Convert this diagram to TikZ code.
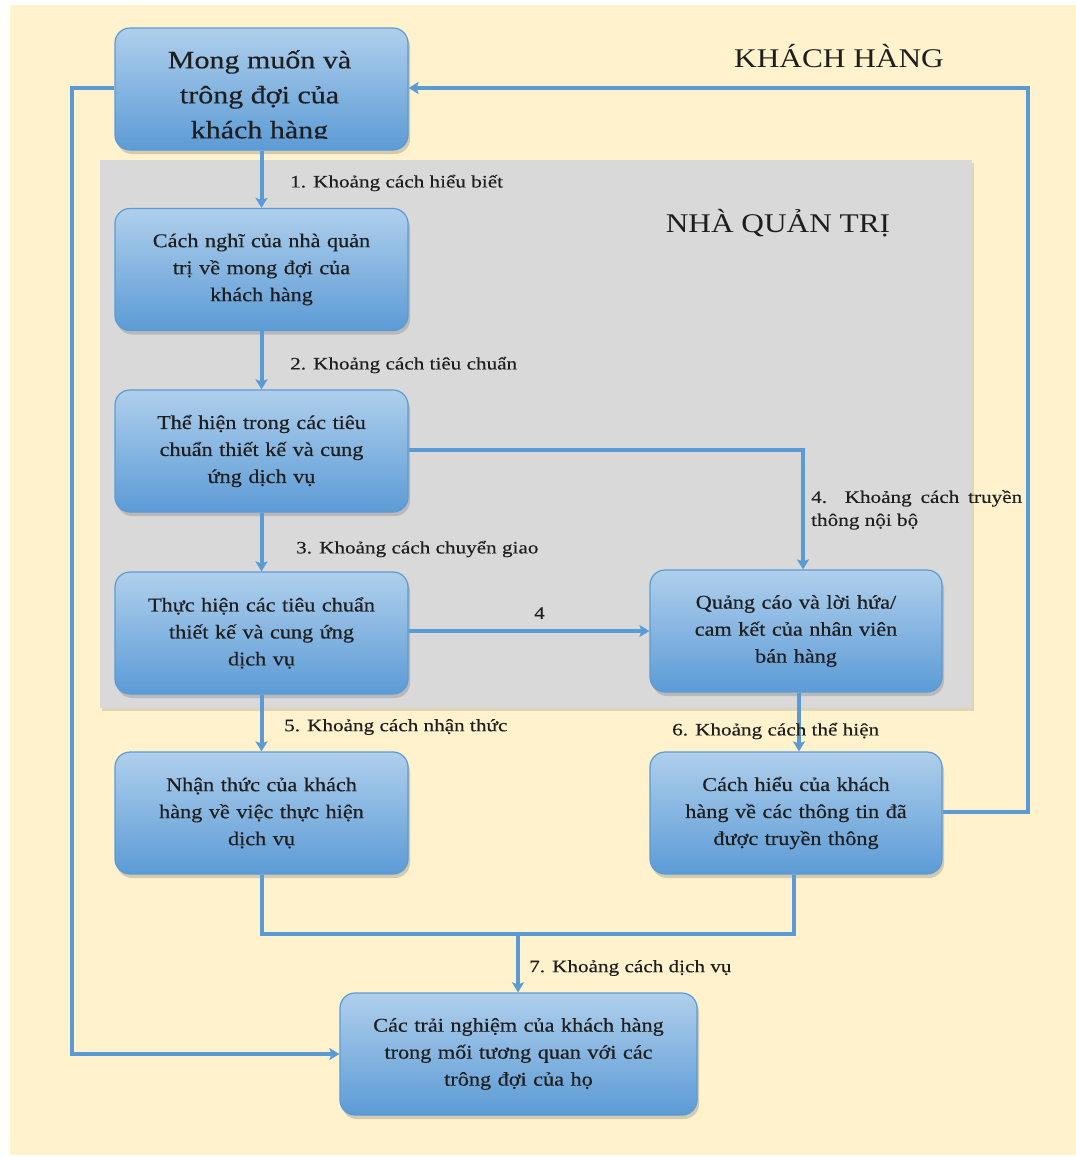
\documentclass[tikz,border=0pt]{standalone}
\usepackage{fontspec}
\setmainfont{Liberation Serif}[FakeStretch=1.16]
\newfontfamily\boxfont{Liberation Serif}[FakeStretch=1.14, FakeBold=0.4]
\newfontfamily\topfont{Liberation Serif}[FakeStretch=1.2, FakeBold=0.4]
\newfontfamily\gapfont{Liberation Serif}[FakeStretch=1.21, FakeBold=0.3]
\newfontfamily\titlefont{Liberation Serif}[FakeStretch=1.16]
\usetikzlibrary{arrows.meta,shadows,calc}
\definecolor{cream}{HTML}{FFF2CC}
\definecolor{mgray}{HTML}{D9D9D9}
\definecolor{lblue}{HTML}{5B9BD5}
\definecolor{btop}{HTML}{AFCFEC}
\definecolor{bbot}{HTML}{5C9BD6}
\definecolor{txt}{HTML}{1E1E1E}
\tikzset{
  box/.style={draw=lblue, line width=1.2pt, rounded corners=15pt,
    top color=btop, bottom color=bbot, minimum height=122pt,
    minimum width=293pt, text width=260pt, align=center, inner sep=0pt,
    font=\boxfont\fontsize{19.5}{27}\selectfont, text=txt,
    drop shadow={opacity=0.35, shadow xshift=2pt, shadow yshift=-4pt}},
  conn/.style={draw=lblue, line width=4pt},
  arr/.style={conn, -{Stealth[width=12pt,length=10pt,inset=2pt]}},
  gap/.style={font=\gapfont\fontsize{17.5}{23}\selectfont, text=txt, inner sep=0pt, anchor=west},
  title/.style={font=\titlefont\fontsize{27}{30}\selectfont, text=txt, inner sep=0pt}
}
\begin{document}
\begin{tikzpicture}[x=1pt,y=-1pt]
\useasboundingbox (0,0) rectangle (1076,1157);
\fill[white] (0,0) rectangle (1076,1157);
\fill[cream] (10,5) rectangle (1076,1155);
\fill[mgray, drop shadow={opacity=0.25, shadow xshift=2pt, shadow yshift=-3pt}] (100,160) rectangle (972,708);

\node[title] (kh) at (839,56) {KHÁCH HÀNG};
\node[title] (nqt) at (778,223) {NHÀ QUẢN TRỊ};

% boxes
\node[box] (b1) at (261.5,89) {};
\begin{scope}
\clip (116,29) rectangle (407,138);
\node[font=\topfont\fontsize{25}{35}\selectfont, text=txt, align=center, inner sep=0pt, anchor=north] (b1t) at (259.5,50) {Mong muốn và\\trông đợi của\\khách hàng};
\end{scope}
\node[box] (b2) at (261.5,269.5) {Cách nghĩ của nhà quản\\trị về mong đợi của\\khách hàng};
\node[box] (b3) at (261.5,451) {Thể hiện trong các tiêu\\chuẩn thiết kế và cung\\ứng dịch vụ};
\node[box] (b4) at (261.5,633) {Thực hiện các tiêu chuẩn\\thiết kế và cung ứng\\dịch vụ};
\node[box, minimum width=292pt] (b5) at (796,631) {Quảng cáo và lời hứa/\\cam kết của nhân viên\\bán hàng};
\node[box] (b6) at (261.5,813) {Nhận thức của khách\\hàng về việc thực hiện\\dịch vụ};
\node[box, minimum width=292pt] (b7) at (796,813) {Cách hiểu của khách\\hàng về các thông tin đã\\được truyền thông};
\node[box, minimum width=357pt, text width=330pt] (b8) at (518.5,1054) {Các trải nghiệm của khách hàng\\trong mối tương quan với các\\trông đợi của họ};

% coordinates
\coordinate (c3r) at (803,450);
\coordinate (c5b) at (799,450);
\coordinate (c7r) at (1028,812);
\coordinate (c1r) at (1028,88);
\coordinate (c1l) at (72,88);
\coordinate (c8l) at (72,1054);
\coordinate (j6) at (261.5,934);
\coordinate (j7) at (794,934);
\coordinate (jm) at (518,934);

% connectors
\draw[arr] (b1.south) -- (b2.north);
\draw[arr] (b2.south) -- (b3.north);
\draw[arr] (b3.south) -- (b4.north);
\draw[arr] (b4.south) -- (b6.north);
\draw[arr] (b5.south -| c5b) -- (b7.north -| c5b);
\draw[arr] (b3.east |- c3r) -- (c3r) -- (b5.north -| c3r);
\draw[arr] (b4.east |- 0,631) -- (b5.west |- 0,631);
\draw[arr] (b7.east |- c7r) -- (c7r) -- (c1r) -- (b1.east |- c1r);
\draw[arr] (b1.west |- c1l) -- (c1l) -- (c8l) -- (b8.west);
\draw[conn, line join=miter] (b6.south) -- (j6) -- (j7) -- (b7.south -| j7);
\draw[arr] (jm) -- (b8.north -| jm);

% labels
\node[gap] (l1) at (290,183) {1. Khoảng cách hiểu biết};
\node[gap] (l2) at (290,365) {2. Khoảng cách tiêu chuẩn};
\node[gap] (l3) at (296,549) {3. Khoảng cách chuyển giao};
\node[gap] (l4s) at (534,613) {4};
\node[gap, anchor=north west, text width=211pt, align=justify] (l4) at (811,490) {4. Khoảng cách truyền thông nội bộ};
\node[gap] (l5) at (284,727) {5. Khoảng cách nhận thức};
\node[gap] (l6) at (672,731) {6. Khoảng cách thể hiện};
\node[gap] (l7) at (529,968) {7. Khoảng cách dịch vụ};
\end{tikzpicture}
\end{document}
